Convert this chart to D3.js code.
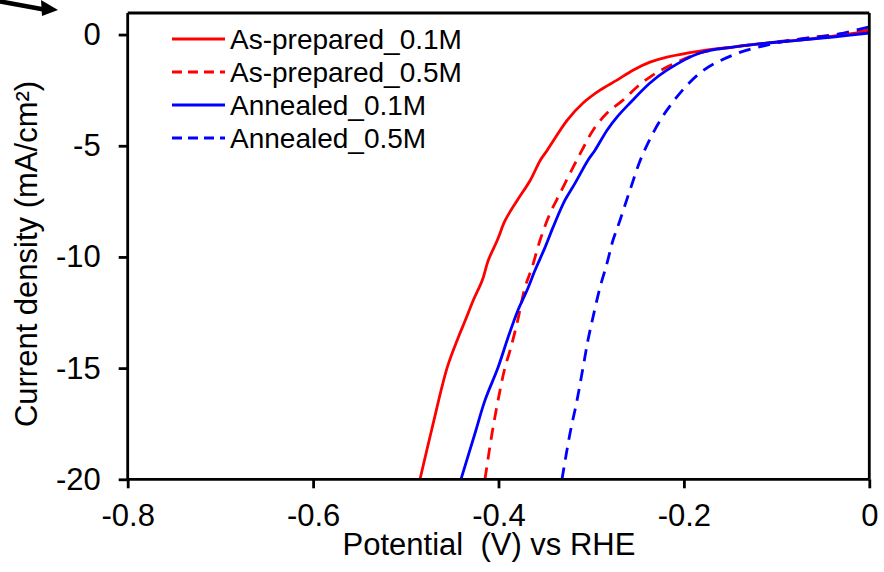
<!DOCTYPE html>
<html>
<head>
<meta charset="utf-8">
<script src="https://cdn.jsdelivr.net/npm/d3@7"></script>
<style>
  html, body { margin: 0; padding: 0; background: #fff; }
  svg { display: block; }
  text { font-family: "Liberation Sans", Arial, sans-serif; fill: #000; }
</style>
</head>
<body>
<div id="chart"></div>
<script>
// ---- Data (Potential V vs RHE, Current density mA/cm2) ----
const seriesNames = ["As-prepared_0.1M", "As-prepared_0.5M", "Annealed_0.1M", "Annealed_0.5M"];
const seriesColors = ["#ff0000", "#ff0000", "#0000ff", "#0000ff"];
const seriesDashed = [false, true, false, true];

const asPrepared01 = [
  [-0.4847, -20], [-0.4715, -17.67], [-0.4553, -14.97], [-0.4434, -13.62], [-0.4358, -12.85],
  [-0.4272, -11.95], [-0.4175, -11.05], [-0.4110, -10.15], [-0.4013, -9.25], [-0.3927, -8.35],
  [-0.3797, -7.45], [-0.3657, -6.55], [-0.3549, -5.65], [-0.3474, -5.20], [-0.3258, -3.85],
  [-0.3088, -3.08], [-0.2905, -2.50], [-0.2722, -2.05], [-0.2549, -1.60], [-0.2366, -1.24],
  [-0.2183, -1.01], [-0.1827, -0.74], [-0.1471, -0.56], [-0.1104, -0.38], [-0.0748, -0.25],
  [-0.0392, -0.07], [0, 0.16]
];
const asPrepared05 = [
  [-0.4146, -20], [-0.4070, -17.94], [-0.4005, -16.45], [-0.3930, -14.97], [-0.3876, -14.21],
  [-0.3800, -12.99], [-0.3714, -11.37], [-0.3638, -10.47], [-0.3552, -9.25], [-0.3444, -8.04],
  [-0.3336, -7.14], [-0.3196, -5.97], [-0.3099, -5.20], [-0.2980, -4.30], [-0.2829, -3.53],
  [-0.2657, -2.95], [-0.2506, -2.36], [-0.2366, -1.91], [-0.2183, -1.46], [-0.1827, -0.83],
  [-0.1471, -0.56], [-0.1104, -0.38], [-0.0748, -0.20], [0, 0.20]
];
const annealed01 = [
  [-0.4405, -20], [-0.4254, -17.94], [-0.4146, -16.45], [-0.4005, -14.97], [-0.3897, -13.62],
  [-0.3790, -12.40], [-0.3692, -11.50], [-0.3606, -10.60], [-0.3498, -9.57], [-0.3412, -8.67],
  [-0.3283, -7.45], [-0.3175, -6.69], [-0.3035, -5.65], [-0.2959, -5.20], [-0.2829, -4.30],
  [-0.2722, -3.71], [-0.2582, -3.08], [-0.2366, -2.18], [-0.2183, -1.60], [-0.1827, -0.83],
  [-0.1471, -0.56], [-0.1104, -0.38], [-0.0748, -0.25], [-0.0392, -0.11], [0, 0.07]
];
const annealed05 = [
  [-0.3315, -20], [-0.3229, -17.94], [-0.3153, -16.45], [-0.3088, -14.97], [-0.3035, -13.75],
  [-0.2981, -12.72], [-0.2905, -11.37], [-0.2830, -10.29], [-0.2765, -9.25], [-0.2689, -8.35],
  [-0.2582, -7.00], [-0.2439, -5.34], [-0.2183, -3.40], [-0.1827, -1.73], [-0.1471, -0.92],
  [-0.1104, -0.47], [-0.0748, -0.20], [-0.0392, -0.02], [0, 0.34]
];
const seriesData = [asPrepared01, asPrepared05, annealed01, annealed05];

const xTicks = [-0.8, -0.6, -0.4, -0.2, 0];
const yTicks = [0, -5, -10, -15, -20];
const xTitle = "Potential  (V) vs RHE";
const yTitle = "Current density (mA/cm²)";

// ---- Layout ----
const W = 884, H = 572;
const margin = { left: 127.7, top: 13, right: 14.7, bottom: 92.7 };
const iw = W - margin.left - margin.right;
const ih = H - margin.top - margin.bottom;

const svg = d3.select("#chart").append("svg").attr("width", W).attr("height", H);

const x = d3.scaleLinear().domain([-0.8, 0]).range([0, iw]);
const y = d3.scaleLinear().domain([-20, 0.97]).range([ih, 0]);

const g = svg.append("g").attr("transform", `translate(${margin.left},${margin.top})`);

g.append("clipPath").attr("id", "clip")
  .append("rect").attr("x", 0).attr("y", 0).attr("width", iw).attr("height", ih);

// Curves
const line = d3.line().x(d => x(d[0])).y(d => y(d[1])).curve(d3.curveCatmullRom.alpha(0.5));
const curves = g.append("g").attr("clip-path", "url(#clip)");
seriesData.forEach((data, i) => {
  curves.append("path")
    .datum(data)
    .attr("d", line)
    .attr("fill", "none")
    .attr("stroke", seriesColors[i])
    .attr("stroke-width", 2.8)
    .attr("stroke-dasharray", seriesDashed[i] ? "12,8" : null)
    .attr("stroke-linejoin", "round");
});

// Frame (top & right)
g.append("line").attr("x1", 0).attr("x2", iw).attr("y1", 0).attr("y2", 0)
  .attr("stroke", "#000").attr("stroke-width", 2.8);
g.append("line").attr("x1", iw).attr("x2", iw).attr("y1", 0).attr("y2", ih)
  .attr("stroke", "#000").attr("stroke-width", 2.8);

// Axes
const xAxis = g.append("g").attr("transform", `translate(0,${ih})`)
  .call(d3.axisBottom(x).tickValues(xTicks).tickSize(9).tickPadding(16)
    .tickFormat(d => d === 0 ? "0" : d3.format(".1f")(d).replace("−", "-")));
const yAxis = g.append("g")
  .call(d3.axisLeft(y).tickValues(yTicks).tickSize(9).tickPadding(18)
    .tickFormat(d => String(d)));

[xAxis, yAxis].forEach(a => {
  a.select(".domain").attr("stroke", "#000").attr("stroke-width", 2.8);
  a.selectAll(".tick line").attr("stroke", "#000").attr("stroke-width", 2.8);
  a.selectAll(".tick text").attr("font-size", 31)
    .attr("font-family", "'Liberation Sans', Arial, sans-serif").attr("fill", "#000");
});
xAxis.select(".domain").attr("d", `M0,0H${iw}`);
yAxis.select(".domain").attr("d", `M0,0V${ih}`);

// Axis titles
svg.append("text")
  .attr("x", 489).attr("y", 555)
  .attr("text-anchor", "middle").attr("font-size", 31)
  .style("white-space", "pre").attr("xml:space", "preserve")
  .text(xTitle);
svg.append("text")
  .attr("transform", `translate(37,254) rotate(-90)`)
  .attr("text-anchor", "middle").attr("font-size", 31)
  .text(yTitle);

// Legend
const legendRows = [39, 72, 105, 138];
seriesNames.forEach((name, i) => {
  const ly = legendRows[i];
  svg.append("line")
    .attr("x1", 172).attr("x2", 225).attr("y1", ly).attr("y2", ly)
    .attr("stroke", seriesColors[i]).attr("stroke-width", 2.8)
    .attr("stroke-dasharray", seriesDashed[i] ? "10,6" : null);
  svg.append("text")
    .attr("x", 230).attr("y", ly + 10)
    .attr("font-size", 28)
    .text(name);
});

// Cropped arrow at top-left corner
svg.append("line").attr("x1", -2).attr("y1", 1).attr("x2", 44).attr("y2", 9.5)
  .attr("stroke", "#000").attr("stroke-width", 4.5);
svg.append("path").attr("d", "M41,0 L58,10 L42,16 Z").attr("fill", "#000");
</script>
</body>
</html>
